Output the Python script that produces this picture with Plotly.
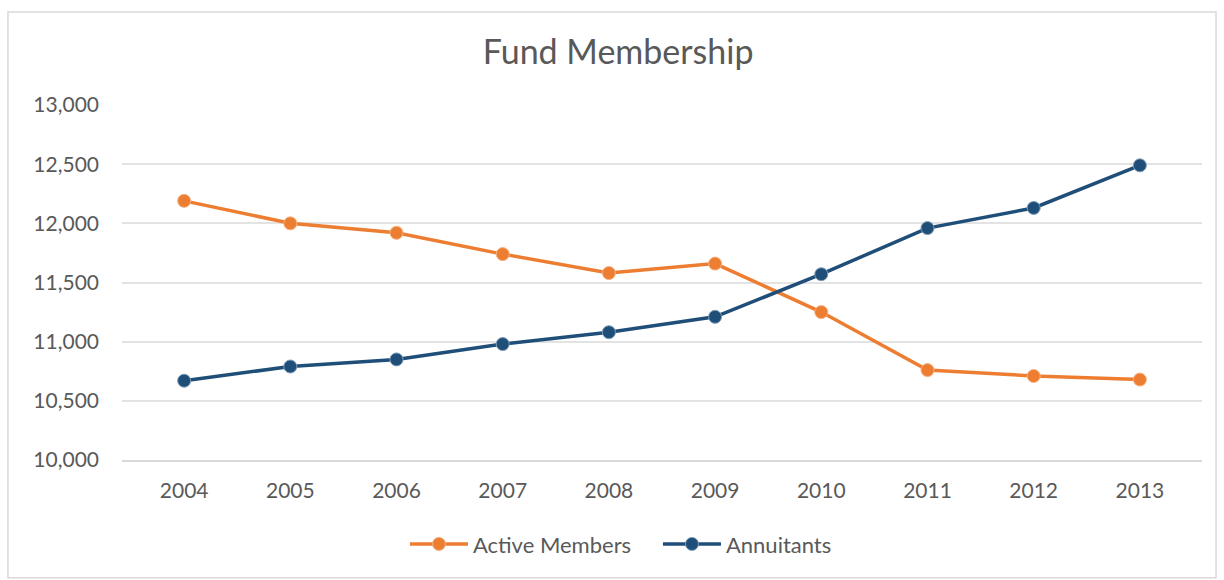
import plotly.graph_objects as go

years = ["2004", "2005", "2006", "2007", "2008", "2009", "2010", "2011", "2012", "2013"]
active_members = [12190, 12000, 11920, 11740, 11580, 11660, 11250, 10760, 10710, 10680]
annuitants = [10670, 10790, 10850, 10980, 11080, 11210, 11570, 11960, 12130, 12490]

ORANGE = "#ED7D31"
BLUE = "#1F4E79"
TEXT = "#595959"
FONT = "Lato"

fig = go.Figure()
fig.add_trace(go.Scatter(
    x=years, y=active_members, name="Active Members",
    mode="lines+markers",
    line=dict(color=ORANGE, width=3.5),
    marker=dict(size=13, color=ORANGE, line=dict(color="#F4B183", width=1)),
))
fig.add_trace(go.Scatter(
    x=years, y=annuitants, name="Annuitants",
    mode="lines+markers",
    line=dict(color=BLUE, width=3.5),
    marker=dict(size=13, color=BLUE, line=dict(color="#7F9DB9", width=1)),
))

fig.update_layout(
    width=1224, height=580,
    paper_bgcolor="white", plot_bgcolor="white",
    margin=dict(l=122, r=22, t=105, b=120, autoexpand=False),
    title=dict(text="Fund Membership", x=0.505, xanchor="center", y=0.91, yanchor="middle",
               font=dict(family=FONT, size=34, color=TEXT)),
    font=dict(family=FONT, color=TEXT),
    xaxis=dict(type="category", showgrid=False, showline=True, linecolor="#D9D9D9", linewidth=1.5,
               ticks="", tickfont=dict(size=21, color=TEXT), ticklabelstandoff=11),
    yaxis=dict(range=[10000, 13000], dtick=500, tickformat=",d",
               showgrid=True, gridcolor="#E3E3E3", gridwidth=1.5, zeroline=False, showline=False,
               ticks="", tickfont=dict(size=21, color=TEXT), ticklabelstandoff=22),
    legend=dict(orientation="h", x=0.262, xanchor="left", y=-0.237, yanchor="middle",
                font=dict(size=22, color=TEXT), itemwidth=58, tracegroupgap=0,
                entrywidth=180, entrywidthmode="pixels"),
    showlegend=True,
    shapes=[dict(type="rect", xref="paper", yref="paper", x0=-0.1056, x1=1.013, y0=-0.332, y1=1.262,
                 line=dict(color="#D9D9D9", width=1.5), fillcolor="rgba(0,0,0,0)", layer="below")],
)

fig.write_html("out.html")
